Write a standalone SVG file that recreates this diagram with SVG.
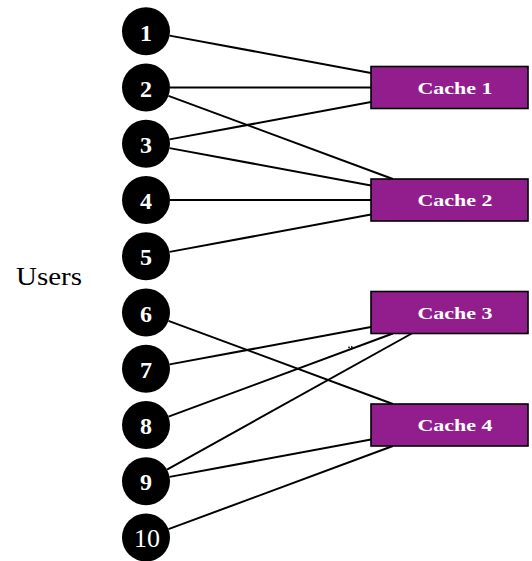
<svg xmlns="http://www.w3.org/2000/svg" width="532" height="561" viewBox="0 0 532 561">
<style>
.user circle{fill:#000;}
.user text{fill:#fff;font-family:"Liberation Serif",serif;font-size:24px;font-weight:bold;text-anchor:middle;}
.cache rect{fill:#921E8D;stroke:#000;stroke-width:1.6;}
.cache text{fill:#fff;font-family:"Liberation Serif",serif;font-size:17px;font-weight:bold;text-anchor:middle;}
#edges line{stroke:#000;stroke-width:2;}
.label{font-family:"Liberation Serif",serif;font-size:26px;fill:#000;}
</style>
<rect width="532" height="561" fill="#fff"/>
<g id="edges">
<line x1="169.6" y1="35.62" x2="371" y2="72.95"/>
<line x1="170" y1="87.5" x2="371" y2="87.5"/>
<line x1="168.5" y1="95.84" x2="392.85" y2="179"/>
<line x1="169.6" y1="139.38" x2="371" y2="102.05"/>
<line x1="169.6" y1="148.12" x2="371" y2="185.45"/>
<line x1="170" y1="200" x2="371" y2="200"/>
<line x1="169.6" y1="251.88" x2="371" y2="214.55"/>
<line x1="168.5" y1="320.84" x2="392.85" y2="404"/>
<line x1="169.6" y1="364.38" x2="371" y2="327.05"/>
<line x1="168.5" y1="416.66" x2="392.85" y2="333.5"/>
<line x1="166.98" y1="469.59" x2="411.74" y2="333.5"/>
<line x1="169.6" y1="476.88" x2="371" y2="439.55"/>
<line x1="168.5" y1="529.16" x2="392.85" y2="446"/>
</g>
<g id="dots" fill="#000">
<circle cx="349" cy="347.3" r="0.9"/>
<circle cx="351.8" cy="347" r="0.9"/>
</g>
<text class="label" x="16" y="285" textLength="66" lengthAdjust="spacingAndGlyphs">Users</text>
<g id="u1" class="user"><circle cx="146" cy="31.25" r="24"/><text x="146" y="40.5">1</text></g>
<g id="u2" class="user"><circle cx="146" cy="87.5" r="24"/><text x="146" y="96.5">2</text></g>
<g id="u3" class="user"><circle cx="146" cy="143.75" r="24"/><text x="146" y="152.75">3</text></g>
<g id="u4" class="user"><circle cx="146" cy="200" r="24"/><text x="146" y="209">4</text></g>
<g id="u5" class="user"><circle cx="146" cy="256.25" r="24"/><text x="146" y="265.25">5</text></g>
<g id="u6" class="user"><circle cx="146" cy="312.5" r="24"/><text x="146" y="321.5">6</text></g>
<g id="u7" class="user"><circle cx="146" cy="368.75" r="24"/><text x="146" y="377.75">7</text></g>
<g id="u8" class="user"><circle cx="146" cy="425" r="24"/><text x="146" y="434">8</text></g>
<g id="u9" class="user"><circle cx="146" cy="481.25" r="24"/><text x="146" y="490.25">9</text></g>
<g id="u10" class="user"><circle cx="146" cy="537.5" r="24"/><text x="147" y="547" style="font-weight:normal;font-size:26px">10</text></g>
<g id="c1" class="cache"><rect x="371" y="66.5" width="157" height="42"/><text x="455" y="93.5" textLength="75" lengthAdjust="spacingAndGlyphs">Cache 1</text></g>
<g id="c2" class="cache"><rect x="371" y="179" width="157" height="42"/><text x="455" y="206" textLength="75" lengthAdjust="spacingAndGlyphs">Cache 2</text></g>
<g id="c3" class="cache"><rect x="371" y="291.5" width="157" height="42"/><text x="455" y="318.5" textLength="75" lengthAdjust="spacingAndGlyphs">Cache 3</text></g>
<g id="c4" class="cache"><rect x="371" y="404" width="157" height="42"/><text x="455" y="431" textLength="75" lengthAdjust="spacingAndGlyphs">Cache 4</text></g>
</svg>
